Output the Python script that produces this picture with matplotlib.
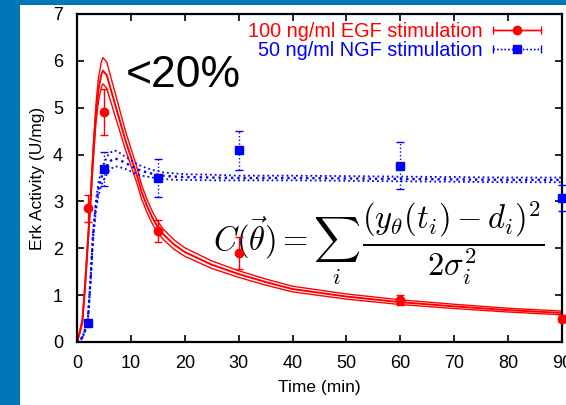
import numpy as np
import matplotlib
matplotlib.use("Agg")
import matplotlib.pyplot as plt
from matplotlib.patches import Rectangle
from matplotlib.container import ErrorbarContainer
from matplotlib.legend_handler import HandlerErrorbar

plt.rcParams['font.family'] = ['Liberation Sans', 'DejaVu Sans']
plt.rcParams['mathtext.fontset'] = 'cm'

# measured data points (time in min, Erk activity in U/mg)
t_data = [2, 5, 15, 30, 60, 90]
egf_mean = [2.85, 4.90, 2.37, 1.90, 0.90, 0.50]
egf_err = [0.28, 0.49, 0.23, 0.34, 0.10, 0.07]
ngf_mean = [0.41, 3.69, 3.50, 4.09, 3.76, 3.08]
ngf_err = [0.06, 0.37, 0.40, 0.42, 0.50, 0.28]

# model fits (centre line and half width of the band)
t_model = [0, 0.5, 1, 1.5, 2, 2.5, 3, 3.5, 4, 4.5, 4.8, 5.5, 6, 7, 8, 9, 10,
           11, 12, 13, 14, 15, 16, 18, 20, 25, 30, 35, 40, 50, 60, 70, 80, 90]
egf_fit = [0, 0.2, 0.45, 1.2, 2.1, 3.0, 4.0, 4.85, 5.4, 5.7, 5.79, 5.7, 5.5,
           5.1, 4.7, 4.3, 3.95, 3.6, 3.2, 2.9, 2.65, 2.45, 2.3, 2.08, 1.92,
           1.65, 1.45, 1.28, 1.13, 0.97, 0.85, 0.76, 0.68, 0.62]
egf_band = [0, 0.02, 0.04, 0.05, 0.07, 0.1, 0.15, 0.2, 0.25, 0.27, 0.28, 0.28,
            0.27, 0.25, 0.22, 0.2, 0.18, 0.17, 0.15, 0.14, 0.13, 0.12, 0.11,
            0.1, 0.09, 0.08, 0.07, 0.065, 0.06, 0.055, 0.05, 0.045, 0.04, 0.04]
ngf_fit = [0, 0.02, 0.1, 0.25, 0.45, 1.3, 2.3, 2.9, 3.27, 3.5, 3.6, 3.75,
           3.85, 3.92, 3.88, 3.82, 3.76, 3.7, 3.65, 3.62, 3.59, 3.57, 3.55,
           3.53, 3.52, 3.51, 3.5, 3.5, 3.5, 3.49, 3.48, 3.47, 3.46, 3.46]
ngf_band = [0, 0.01, 0.02, 0.03, 0.03, 0.05, 0.08, 0.11, 0.14, 0.16, 0.17,
            0.18, 0.18, 0.17, 0.15, 0.13, 0.12, 0.11, 0.1, 0.09, 0.08, 0.08,
            0.07, 0.07, 0.06, 0.06, 0.05, 0.05, 0.05, 0.05, 0.05, 0.05, 0.05, 0.05]

RED = '#ff0000'
BLUE = '#0000ff'

fig = plt.figure(figsize=(5.66, 4.05), dpi=100)
fig.patch.set_facecolor('#0077b8')
fig.add_artist(Rectangle((20 / 566, 0), 1, 400 / 405, transform=fig.transFigure,
                         facecolor='white', edgecolor='none', zorder=0))

ax = fig.add_axes([77 / 566, 63 / 405, 485 / 566, 328 / 405])
ax.set_facecolor('white')

tm = np.array(t_model)
for fit, band, col, ls, lw in [(egf_fit, egf_band, RED, '-', 1.0),
                               (ngf_fit, ngf_band, BLUE, ':', 1.3)]:
    fit = np.array(fit)
    band = np.array(band)
    for k in (-1, 0, 1):
        ax.plot(tm, fit + k * band, color=col, ls=ls, lw=lw + (0.4 if k == 0 else 0))

e1 = ax.errorbar(t_data, egf_mean, yerr=egf_err, fmt='o', color=RED, ms=6,
                 capsize=3, elinewidth=1, capthick=1, clip_on=False, zorder=5)
e2 = ax.errorbar(t_data, ngf_mean, yerr=ngf_err, fmt='s', color=BLUE, ms=6,
                 capsize=3, elinewidth=1, capthick=1, clip_on=False, zorder=5)
e2[2][0].set_linestyle(':')

# legend samples in gnuplot style: horizontal bar with end caps
h1 = ax.errorbar([np.nan], [np.nan], xerr=[1], fmt='o-', color=RED, ms=6,
                 capsize=3, lw=1)
h2 = ax.errorbar([np.nan], [np.nan], xerr=[1], fmt='s:', color=BLUE, ms=6,
                 capsize=3, lw=1)
h2[2][0].set_linestyle(':')
h2[0].set_linestyle(':')
leg = ax.legend([h1, h2], ['100 ng/ml EGF stimulation', '50 ng/ml NGF stimulation'],
                loc='upper right', bbox_to_anchor=(0.957, 0.976),
                frameon=False, markerfirst=False,
                fontsize=14.3, handlelength=2.4, labelspacing=0.0,
                borderaxespad=0, borderpad=0, handletextpad=0.55,
                labelcolor=[RED, BLUE],
                handler_map={ErrorbarContainer: HandlerErrorbar(xerr_size=1.2)})

ax.set_xlim(0, 90)
ax.set_ylim(0, 7)
ax.set_xticks(range(0, 91, 10))
ax.set_yticks(range(0, 8))
ax.tick_params(direction='in', length=5, width=1.2, top=True, right=True,
               labelsize=13)
ax.tick_params(axis='x', pad=9)
ax.tick_params(axis='y', pad=10)
for s in ax.spines.values():
    s.set_linewidth(1.6)

ax.set_xlabel('Time (min)', fontsize=12.5, labelpad=6)
ax.set_ylabel('Erk Activity (U/mg)', fontsize=12.5, labelpad=6)

ax.text(0.101, 0.777, '<20%', transform=ax.transAxes, fontsize=32,
        va='baseline', ha='left')
ax.text(0.28, 0.303,
        r'$C(\vec{\theta}) = \sum_i \, \dfrac{(y_\theta(t_i) - d_i)^2}{2\sigma_i^2}$',
        transform=ax.transAxes, fontsize=23.5, va='center', ha='left')

fig.savefig('out.png', dpi=100)
